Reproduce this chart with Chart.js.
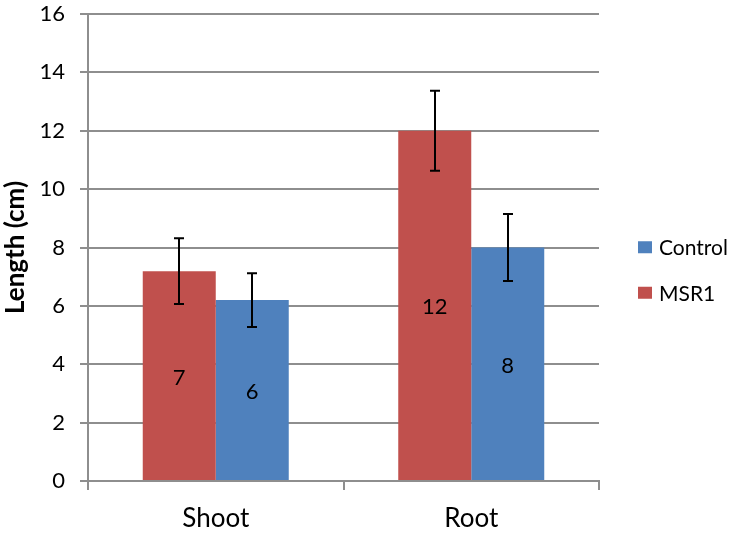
<!DOCTYPE html>
<html><head><meta charset="utf-8">
<script src="https://cdn.jsdelivr.net/npm/chart.js@4/dist/chart.umd.min.js"></script>
<style>html,body{margin:0;padding:0;background:#fff}</style>
</head><body>
<canvas id="c" width="734" height="535" style="display:block;width:734px;height:535px"></canvas>
<script>
// ---- data ----
const categories = ['Shoot', 'Root'];
const seriesNames = ['MSR1', 'Control'];
const msr1Values = [7.19, 12.0];
const controlValues = [6.2, 8.0];
const msr1Errors = [1.13, 1.37];
const controlErrors = [0.92, 1.15];
const yTicks = [0, 2, 4, 6, 8, 10, 12, 14, 16];
const yTitle = 'Length (cm)';
const legendOrder = ['Control', 'MSR1'];

const FONT = 'Lato, "Liberation Sans", sans-serif';
const GRID = '#8e8e8e';
const RED = '#C0504D';
const BLUE = '#4F81BD';

const errorBarPlugin = {
  id: 'errorBars',
  afterDatasetsDraw(chart) {
    const ctx = chart.ctx, ys = chart.scales.y;
    ctx.save();
    ctx.strokeStyle = '#000';
    ctx.lineWidth = 2;
    chart.data.datasets.forEach((ds, di) => {
      const meta = chart.getDatasetMeta(di);
      meta.data.forEach((el, i) => {
        const v = ds.data[i], e = ds.errors[i];
        const x = Math.round(el.x);
        const t = ys.getPixelForValue(v + e), b = ys.getPixelForValue(v - e);
        ctx.beginPath();
        ctx.moveTo(x, t); ctx.lineTo(x, b);
        ctx.moveTo(x - 5, t); ctx.lineTo(x + 5, t);
        ctx.moveTo(x - 5, b); ctx.lineTo(x + 5, b);
        ctx.stroke();
      });
    });
    ctx.restore();
  }
};

const valueLabelPlugin = {
  id: 'valueLabels',
  afterDatasetsDraw(chart) {
    const ctx = chart.ctx;
    ctx.save();
    ctx.fillStyle = '#000';
    ctx.font = '22px ' + FONT;
    ctx.textAlign = 'center';
    ctx.textBaseline = 'middle';
    chart.data.datasets.forEach((ds, di) => {
      chart.getDatasetMeta(di).data.forEach((el, i) => {
        ctx.fillText(String(Math.round(ds.data[i])), el.x, (el.y + el.base) / 2 + 2);
      });
    });
    ctx.restore();
  }
};

const sideLegendPlugin = {
  id: 'sideLegend',
  afterDraw(chart) {
    const ctx = chart.ctx, ca = chart.chartArea;
    const x = ca.right + 39;
    const spacing = 45.5;
    const cy = 270;
    ctx.save();
    ctx.font = '21px ' + FONT;
    ctx.textBaseline = 'middle';
    ctx.textAlign = 'left';
    legendOrder.forEach((name, k) => {
      const ds = chart.data.datasets.find(d => d.label === name);
      const y = cy + (k - (legendOrder.length - 1) / 2) * spacing;
      ctx.fillStyle = ds.backgroundColor;
      ctx.fillRect(x, y - 6, 14, 12);
      ctx.fillStyle = '#000';
      ctx.fillText(name, x + 21, y + 1);
    });
    ctx.restore();
  }
};

new Chart(document.getElementById('c'), {
  type: 'bar',
  data: {
    labels: categories,
    datasets: [
      { label: seriesNames[0], data: msr1Values, errors: msr1Errors, backgroundColor: RED },
      { label: seriesNames[1], data: controlValues, errors: controlErrors, backgroundColor: BLUE }
    ]
  },
  options: {
    responsive: false,
    animation: false,
    devicePixelRatio: 1,
    layout: { padding: { top: 14, right: 135, bottom: 0, left: 0 } },
    datasets: { bar: { categoryPercentage: 0.5714, barPercentage: 1.0 } },
    plugins: { legend: { display: false }, tooltip: { enabled: false } },
    scales: {
      x: {
        offset: true,
        grid: { display: true, drawOnChartArea: false, drawTicks: true, tickLength: 9, color: GRID, lineWidth: 2, offset: true },
        border: { display: true, color: GRID, width: 2 },
        ticks: { color: '#000', font: { family: FONT, size: 26 }, padding: 13 },
        afterFit(s) { s.height = 54; s.paddingLeft = 0; s.paddingRight = 0; }
      },
      y: {
        min: 0, max: 16,
        afterBuildTicks(s) { s.ticks = yTicks.map(v => ({ value: v })); },
        grid: { color: GRID, lineWidth: 2, tickLength: 8 },
        border: { display: true, color: GRID, width: 2 },
        ticks: { color: '#000', font: { family: FONT, size: 22 }, padding: 15 },
        title: { display: true, text: yTitle, color: '#000', font: { family: FONT, size: 26, weight: 'bold' }, padding: { top: 0, bottom: 0 } },
        afterFit(s) { s.width = 88; s.paddingTop = 0; s.paddingBottom = 0; }
      }
    }
  },
  plugins: [errorBarPlugin, valueLabelPlugin, sideLegendPlugin]
});
</script>
</body></html>
